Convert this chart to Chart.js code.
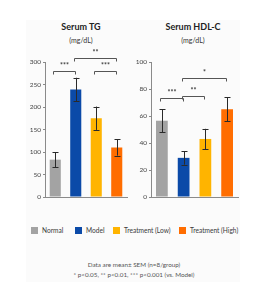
<!DOCTYPE html>
<html>
<head>
<meta charset="utf-8">
<script src="https://cdn.jsdelivr.net/npm/chart.js@4"></script>
<style>
    body { margin: 0; width: 268px; height: 304px; background: #fff; position: relative; overflow: hidden; font-family: Lato, "Liberation Sans", sans-serif; }
    #panel { position: absolute; left: 26px; top: 20px; width: 214px; height: 262px; background: #fbfbfb; }
    .wrap { position: absolute; top: 0; width: 134px; height: 215px; }
    .title { position: absolute; width: 134px; text-align: center; color: #222; }
    .title b { display: block; font-size: 9px; line-height: 10px; }
    .title span { display: block; font-size: 7px; line-height: 8px; margin-top: 4px; color: #333; }
    #legend { position: absolute; top: 225px; left: 0; width: 268px; height: 10px; font-size: 6.6px; color: #3a3a3a; }
    #legend div { position: absolute; top: 0; white-space: nowrap; line-height: 10px; }
    #legend i { display: inline-block; width: 7px; height: 7px; vertical-align: -1px; margin-right: 4px; }
    .note { position: absolute; left: 0; width: 268px; text-align: center; font-size: 6.3px; color: #555; }
</style>
</head>
<body>
<div id="panel"></div>
<div class="title" style="left:14px;top:22px"><b>Serum TG</b><span>(mg/dL)</span></div>
<div class="title" style="left:126px;top:22px"><b>Serum HDL-C</b><span>(mg/dL)</span></div>
<div class="wrap" style="left:0"><canvas id="tgChart" width="134" height="215"></canvas></div>
<div class="wrap" style="left:134px"><canvas id="hdlChart" width="134" height="215"></canvas></div>
<div id="legend"></div>
<div class="note" style="top:261px">Data are mean± SEM (n=8/group)</div>
<div class="note" style="top:271px">* p&lt;0.05, ** p&lt;0.01, *** p&lt;0.001 (vs. Model)</div>
<script>
// groups
let groups = ["Normal", "Model", "Treatment (Low)", "Treatment (High)"]
let groupColors = ["#a3a3a3", "#0b4aa8", "#ffb400", "#ff6d00"]

// Serum TG
let tgMean = [83, 239, 175, 110]
let tgSem = [17, 26, 26, 18]
let tgTicks = [0, 50, 100, 150, 200, 250, 300]
// [from, to, label, height]
let tgSig = [[0, 1, "***", 280], [1, 3, "**", 309], [2, 3, "***", 280]]

// Serum HDL-C
let hdlMean = [56.5, 29, 43, 65]
let hdlSem = [8.5, 5, 7.5, 9]
let hdlTicks = [0, 20, 40, 60, 80, 100]
let hdlSig = [[0, 1, "***", 73], [1, 2, "**", 75], [1, 3, "*", 88]]

//#region plugins
const errorBars = {
    id: "errorBars",
    afterDatasetsDraw(chart, args, opts) {
        let ctx = chart.ctx, y = chart.scales.y
        let meta = chart.getDatasetMeta(0)
        ctx.save()
        ctx.strokeStyle = "#2a2a2a"
        ctx.lineWidth = 1
        meta.data.forEach((bar, i) => {
            let m = opts.mean[i], s = opts.sem[i]
            let x = Math.round(bar.x) + 0.5
            let top = y.getPixelForValue(m + s), bot = y.getPixelForValue(m - s)
            ctx.beginPath()
            ctx.moveTo(x, top); ctx.lineTo(x, bot)
            ctx.moveTo(x - 3, Math.round(top) + 0.5); ctx.lineTo(x + 3, Math.round(top) + 0.5)
            ctx.moveTo(x - 3, Math.round(bot) + 0.5); ctx.lineTo(x + 3, Math.round(bot) + 0.5)
            ctx.stroke()
        })
        ctx.restore()
    }
}

const sigBrackets = {
    id: "sigBrackets",
    afterDraw(chart, args, opts) {
        let ctx = chart.ctx, y = chart.scales.y
        let meta = chart.getDatasetMeta(0)
        ctx.save()
        ctx.strokeStyle = "#555"
        ctx.fillStyle = "#333"
        ctx.lineWidth = 1
        ctx.font = "bold 7px Lato, 'Liberation Sans', sans-serif"
        ctx.textAlign = "center"
        ctx.textBaseline = "bottom"
        opts.pairs.forEach(([a, b, label, h]) => {
            let x1 = Math.round(meta.data[a].x) - 1.5, x2 = Math.round(meta.data[b].x) - 0.5
            let yy = Math.round(y.getPixelForValue(h)) + 0.5
            ctx.beginPath()
            ctx.moveTo(x1, yy + 3); ctx.lineTo(x1, yy); ctx.lineTo(x2, yy); ctx.lineTo(x2, yy + 3)
            ctx.stroke()
            ctx.fillText(label, (x1 + x2) / 2, yy - 2)
        })
        ctx.restore()
    }
}
//#endregion

CreateChart = (canvasId, mean, sem, ticks, sig, axisWidth, padRight) => {
    new Chart(canvasId, {
        type: "bar",
        data: {
            labels: groups,
            datasets: [{
                data: mean,
                backgroundColor: groupColors,
                categoryPercentage: 1,
                barPercentage: 0.54
            }]
        },
        options: {
            responsive: false,
            animation: false,
            events: [],
            layout: { padding: { left: 0, right: padRight, top: 62, bottom: 18 } },
            plugins: {
                legend: { display: false },
                tooltip: { enabled: false },
                errorBars: { mean, sem },
                sigBrackets: { pairs: sig }
            },
            scales: {
                x: {
                    grid: { display: false },
                    border: { color: "#8a8a8a" },
                    ticks: { display: false },
                    afterFit: s => { s.height = 0 }
                },
                y: {
                    min: ticks[0],
                    max: ticks[ticks.length - 1],
                    afterBuildTicks: s => { s.ticks = ticks.map(v => ({ value: v })) },
                    grid: { display: true, drawOnChartArea: false, tickLength: 2, color: "#8a8a8a" },
                    border: { color: "#8a8a8a" },
                    ticks: { padding: 2, color: "#444", font: { size: 6.5, family: "Lato, 'Liberation Sans', sans-serif" } },
                    afterFit: s => { s.width = axisWidth }
                }
            }
        },
        plugins: [errorBars, sigBrackets]
    })
}

RenderLegend = () => {
    let legend = document.getElementById("legend")
    let lefts = [31, 75, 113, 179]
    groups.forEach((g, i) => {
        legend.innerHTML += `<div style="left:${lefts[i]}px"><i style="background:${groupColors[i]}"></i>${g}</div>`
    })
}

CreateChart("tgChart", tgMean, tgSem, tgTicks, tgSig, 45, 7)
CreateChart("hdlChart", hdlMean, hdlSem, hdlTicks, hdlSig, 17, 30)
RenderLegend()
</script>
</body>
</html>
